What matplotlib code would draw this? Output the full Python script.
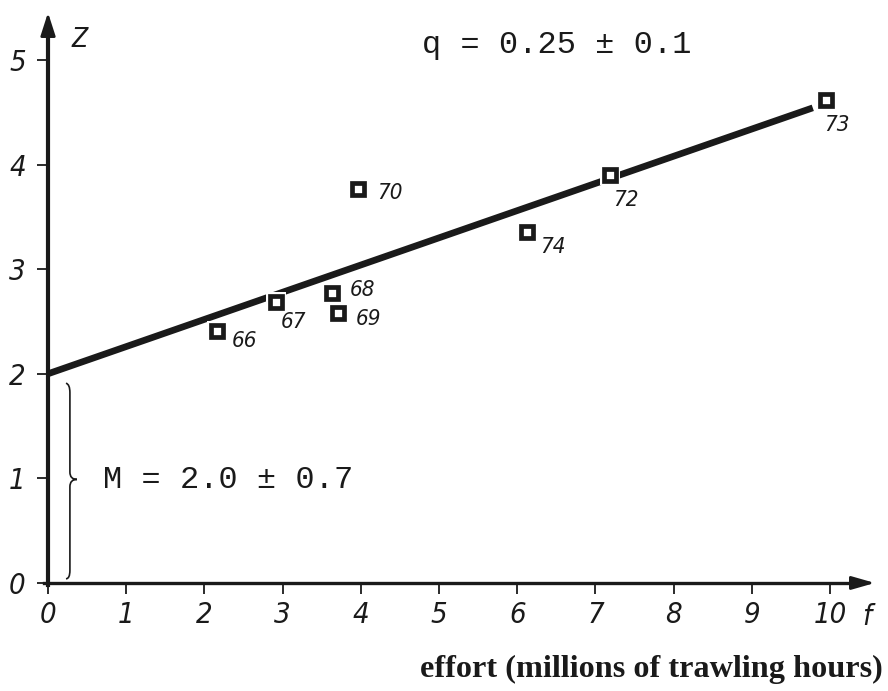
import matplotlib.pyplot as plt
import numpy as np
from matplotlib.path import Path
from matplotlib.patches import PathPatch

# fishing effort (millions of trawling hours) vs total mortality Z, by year
YEARS = ["66", "67", "68", "69", "70", "74", "72", "73"]
EFFORT = [2.16, 2.92, 3.63, 3.71, 3.96, 6.12, 7.19, 9.95]
Z_VALUES = [2.41, 2.69, 2.77, 2.58, 3.77, 3.36, 3.90, 4.62]

# fitted line Z = M + q f
M_FIT = 2.0
Q_FIT = 0.26
LINE_END = 9.78

X_TICKS = list(range(11))
Y_TICKS = list(range(6))

# label offsets from each marker, in points (x right, y up)
LABEL_OFFSETS = [(20, -7), (12, -15), (22, 2), (22, -4), (23, -3), (19, -11), (11, -18), (8, -18)]

INK = "#1a1a1a"
LETTERING = dict(family="DejaVu Sans", style="italic", stretch="condensed", color=INK)

fig = plt.figure(figsize=(8.88, 6.91), dpi=100)
ax = fig.add_axes([0, 0, 1, 1])
ax.set_xlim(-0.614, 10.742)
ax.set_ylim(-1.033, 5.574)

for side in ("top", "right"):
    ax.spines[side].set_visible(False)
ax.spines["left"].set_position(("data", 0))
ax.spines["bottom"].set_position(("data", 0))
ax.spines["left"].set_bounds(-0.02, 5.3)
ax.spines["bottom"].set_bounds(-0.05, 10.4)
ax.spines["left"].set_linewidth(3.0)
ax.spines["bottom"].set_linewidth(2.4)
ax.spines["left"].set_color(INK)
ax.spines["bottom"].set_color(INK)

# arrow heads on both axes
ax.annotate("", xy=(0, 5.48), xytext=(0, 5.2),
            arrowprops=dict(arrowstyle="-|>,head_length=1.4,head_width=0.45", color=INK, lw=2))
ax.annotate("", xy=(10.61, 0), xytext=(10.3, 0),
            arrowprops=dict(arrowstyle="-|>,head_length=1.4,head_width=0.4", color=INK, lw=2))

ax.set_xticks(X_TICKS, labels=[str(v) for v in X_TICKS], fontsize=21, **LETTERING)
ax.set_yticks(Y_TICKS, labels=[str(v) for v in Y_TICKS], fontsize=21, **LETTERING)
ax.tick_params(axis="x", direction="out", length=8, width=1.3, color=INK, pad=5)
ax.tick_params(axis="y", direction="out", length=8, width=1.3, color=INK, pad=8)

# regression line, broken where it passes under a marker
fx = np.array([0.0, LINE_END])
ax.plot(fx, M_FIT + Q_FIT * fx, color=INK, lw=4.8, solid_capstyle="butt", zorder=2)
ax.plot(EFFORT, Z_VALUES, ls="none", marker="s", ms=15, mfc="white", mec="white", mew=0, zorder=3)
ax.plot(EFFORT, Z_VALUES, ls="none", marker="s", ms=8, mfc="white", mec=INK, mew=3.4, zorder=4)

for year, fv, zv, off in zip(YEARS, EFFORT, Z_VALUES, LABEL_OFFSETS):
    ax.annotate(year, (fv, zv), xytext=off, textcoords="offset points",
                ha="center", va="center", fontsize=16, **LETTERING)

# brace marking the intercept M
brace = Path(
    [(0.23, 1.91), (0.28, 1.90), (0.28, 1.82),
     (0.28, 1.06),
     (0.28, 0.99), (0.37, 0.99),
     (0.28, 0.99), (0.28, 0.92),
     (0.28, 0.12),
     (0.28, 0.04), (0.23, 0.04)],
    [Path.MOVETO, Path.CURVE3, Path.CURVE3,
     Path.LINETO,
     Path.CURVE3, Path.CURVE3,
     Path.CURVE3, Path.CURVE3,
     Path.LINETO,
     Path.CURVE3, Path.CURVE3])
ax.add_patch(PathPatch(brace, fill=False, lw=1.2, color=INK))

ax.text(0.70, 0.98, "M = 2.0 ± 0.7", family="Liberation Mono", fontsize=23,
        ha="left", va="center", color=INK)
ax.text(4.78, 5.14, "q = 0.25 ± 0.1", family="Liberation Mono", fontsize=23,
        ha="left", va="center", color=INK)

ax.text(0.41, 5.19, "Z", fontsize=19, ha="center", va="center", **LETTERING)
ax.text(10.47, -0.33, "f", fontsize=21, ha="center", va="center", **LETTERING)

ax.text(10.68, -0.83, "effort (millions of trawling hours)", family="Liberation Serif",
        weight="bold", fontsize=23.2, ha="right", va="center", color=INK)

fig.savefig("out.png", dpi=100)
